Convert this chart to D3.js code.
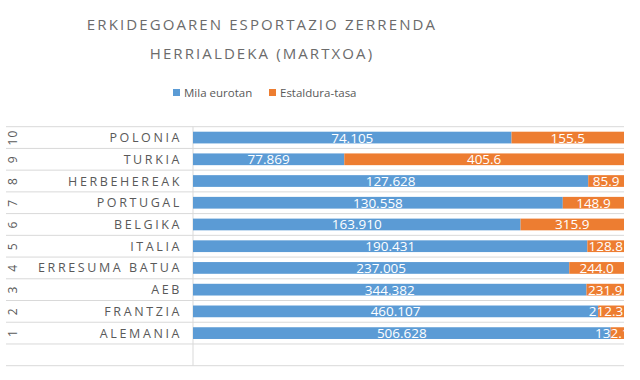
<!DOCTYPE html>
<html>
<head>
<meta charset="utf-8">
<script src="https://cdn.jsdelivr.net/npm/d3@7"></script>
<style>
  body { margin: 0; background: #fff; }
  svg { display: block; font-family: 'Open Sans', 'Liberation Sans', sans-serif; }
</style>
</head>
<body>
<script>
var countries = ['POLONIA', 'TURKIA', 'HERBEHEREAK', 'PORTUGAL', 'BELGIKA', 'ITALIA', 'ERRESUMA BATUA', 'AEB', 'FRANTZIA', 'ALEMANIA'];
var ranks = ['10', '9', '8', '7', '6', '5', '4', '3', '2', '1'];
var milaEurotan = [74105, 77869, 127628, 130558, 163910, 190431, 237005, 344382, 460107, 506628];
var estaldura = [155.5, 405.6, 85.9, 148.9, 315.9, 128.8, 244.0, 231.9, 212.3, 132.1];
// share of each bar drawn blue, in percent
var blueShare = [73.9, 35.1, 91.7, 85.8, 76.0, 91.5, 87.3, 91.3, 94.0, 96.9];
var seriesNames = ['Mila eurotan', 'Estaldura-tasa'];
var colors = ['#5b9bd5', '#ed7d31'];

var W = 640, H = 380;
var svg = d3.select('body').append('svg').attr('width', W).attr('height', H);

var plotL = 193, plotR = 624, plotT = 126.7, plotB = 365.7;

var x = d3.scaleLinear().domain([0, 100]).range([plotL, plotR]);
var y = d3.scaleBand().domain(countries.concat([''])).range([plotT, plotB]);
var barH = y.bandwidth() * 0.54;

// title
svg.append('text')
  .attr('x', 262).attr('y', 30)
  .attr('text-anchor', 'middle')
  .attr('fill', '#6b6b6b')
  .style('font-size', '15px')
  .style('letter-spacing', '2.1px')
  .text('ERKIDEGOAREN ESPORTAZIO ZERRENDA');
svg.append('text')
  .attr('x', 262).attr('y', 59)
  .attr('text-anchor', 'middle')
  .attr('fill', '#6b6b6b')
  .style('font-size', '15px')
  .style('letter-spacing', '2.1px')
  .text('HERRIALDEKA (MARTXOA)');

// legend
var legX = [173, 269];
seriesNames.forEach(function (name, i) {
  svg.append('rect')
    .attr('x', legX[i]).attr('y', 89)
    .attr('width', 7).attr('height', 7)
    .attr('fill', colors[i]);
  svg.append('text')
    .attr('x', legX[i] + 11).attr('y', 97)
    .attr('fill', '#595959')
    .style('font-size', '11.5px')
    .text(name);
});

// grid lines (row separators, across the two-level axis)
var lines = y.domain().map(function (d) { return y(d); }).concat([plotB]);
svg.selectAll('.grid')
  .data(lines)
  .enter()
  .append('line')
  .attr('x1', 6).attr('x2', plotR)
  .attr('y1', function (d) { return d; })
  .attr('y2', function (d) { return d; })
  .attr('stroke', '#d9d9d9')
  .attr('stroke-width', 1);

svg.append('line')
  .attr('x1', plotL).attr('x2', plotL)
  .attr('y1', plotT).attr('y2', plotB)
  .attr('stroke', '#d9d9d9');

// bars
var rows = countries.map(function (c, i) {
  return { c: c, r: ranks[i], v: milaEurotan[i], t: estaldura[i], s: blueShare[i] };
});

svg.append('clipPath').attr('id', 'plot')
  .append('rect').attr('x', plotL).attr('y', plotT).attr('width', plotR - plotL).attr('height', plotB - plotT);

var g = svg.append('g').attr('clip-path', 'url(#plot)');

g.selectAll('.blue')
  .data(rows)
  .enter()
  .append('rect')
  .attr('x', x(0))
  .attr('y', function (d) { return y(d.c) + (y.bandwidth() - barH) / 2; })
  .attr('width', function (d) { return x(d.s) - x(0); })
  .attr('height', barH)
  .attr('fill', colors[0]);

g.selectAll('.orange')
  .data(rows)
  .enter()
  .append('rect')
  .attr('x', function (d) { return x(d.s); })
  .attr('y', function (d) { return y(d.c) + (y.bandwidth() - barH) / 2; })
  .attr('width', function (d) { return x(100) - x(d.s); })
  .attr('height', barH)
  .attr('fill', colors[1]);

var fmtK = function (v) { return d3.format(',')(v).replace(/,/g, '.'); };
var fmtT = d3.format('.1f');

g.selectAll('.lblB')
  .data(rows)
  .enter()
  .append('text')
  .attr('x', function (d) { return (x(0) + x(d.s)) / 2; })
  .attr('y', function (d) { return y(d.c) + y.bandwidth() / 2 + 5; })
  .attr('text-anchor', 'middle')
  .attr('fill', '#fff')
  .style('font-size', '13.5px')
  .text(function (d) { return fmtK(d.v); });

g.selectAll('.lblO')
  .data(rows)
  .enter()
  .append('text')
  .attr('x', function (d) { return (x(d.s) + x(100)) / 2 - (x(100) - x(d.s) < 30 ? 5 : 0); })
  .attr('y', function (d) { return y(d.c) + y.bandwidth() / 2 + 5; })
  .attr('text-anchor', 'middle')
  .attr('fill', '#fff')
  .style('font-size', '13.5px')
  .text(function (d) { return fmtT(d.t); });

// category axis: country names
svg.selectAll('.cname')
  .data(rows)
  .enter()
  .append('text')
  .attr('x', 182)
  .attr('y', function (d) { return y(d.c) + y.bandwidth() / 2 + 4.5; })
  .attr('text-anchor', 'end')
  .attr('fill', '#595959')
  .style('font-size', '12.5px')
  .style('letter-spacing', '2.6px')
  .text(function (d) { return d.c; });

// category axis: rank numbers, rotated
svg.selectAll('.rank')
  .data(rows)
  .enter()
  .append('text')
  .attr('transform', function (d) {
    return 'translate(17,' + (y(d.c) + y.bandwidth() / 2) + ') rotate(-90)';
  })
  .attr('text-anchor', 'middle')
  .attr('fill', '#595959')
  .style('font-size', '12px')
  .style('letter-spacing', '1px')
  .text(function (d) { return d.r; });
</script>
</body>
</html>
